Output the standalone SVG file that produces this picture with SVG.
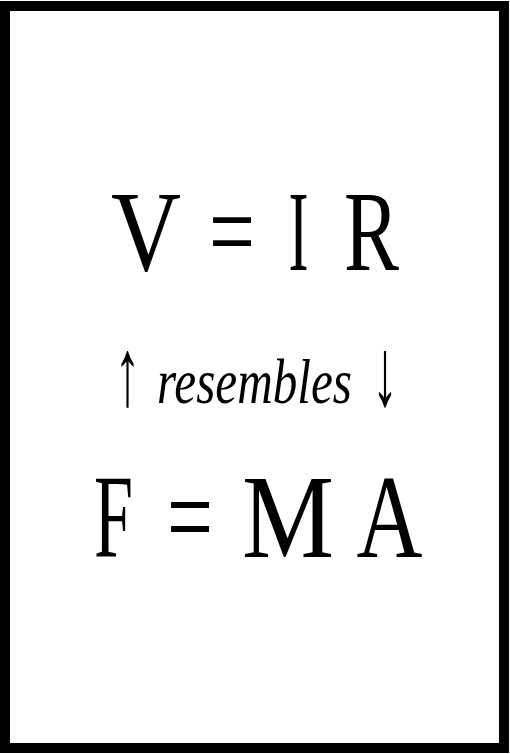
<svg xmlns="http://www.w3.org/2000/svg" width="510" height="754" viewBox="0 0 510 754">
<style>
.t{font-family:"Liberation Serif","DejaVu Serif",serif;fill:#000;text-anchor:middle}
.big{font-size:115px}
.big2{font-size:118px}
.it{font-style:italic;font-size:64px;text-anchor:start}
.arr{font-size:96px}
</style>
<rect x="0" y="0" width="510" height="754" fill="#fff"/>
<rect x="5" y="6" width="499" height="742" fill="none" stroke="#000" stroke-width="10"/>
<g id="eq1">
<text class="t big" x="146" y="270" textLength="70" lengthAdjust="spacingAndGlyphs">V</text>
<text class="t big" x="232" y="270" textLength="46" lengthAdjust="spacingAndGlyphs">=</text>
<text class="t big" x="298.5" y="270" textLength="20" lengthAdjust="spacingAndGlyphs">I</text>
<text class="t big" x="371.5" y="270" textLength="55" lengthAdjust="spacingAndGlyphs">R</text>
</g>
<g id="rel">
<text class="t arr" x="127.5" y="405" textLength="26" lengthAdjust="spacingAndGlyphs">↑</text>
<text class="t it" x="157" y="403" textLength="195" lengthAdjust="spacingAndGlyphs">resembles</text>
<text class="t arr" x="385" y="405" textLength="26" lengthAdjust="spacingAndGlyphs">↓</text>
</g>
<g id="eq2">
<text class="t big2" x="113.5" y="557" textLength="39" lengthAdjust="spacingAndGlyphs">F</text>
<text class="t big2" x="190" y="557" textLength="46" lengthAdjust="spacingAndGlyphs">=</text>
<text class="t big2" x="288" y="557" textLength="92" lengthAdjust="spacingAndGlyphs">M</text>
<text class="t big2" x="389.5" y="557" textLength="66" lengthAdjust="spacingAndGlyphs">A</text>
</g>
</svg>
